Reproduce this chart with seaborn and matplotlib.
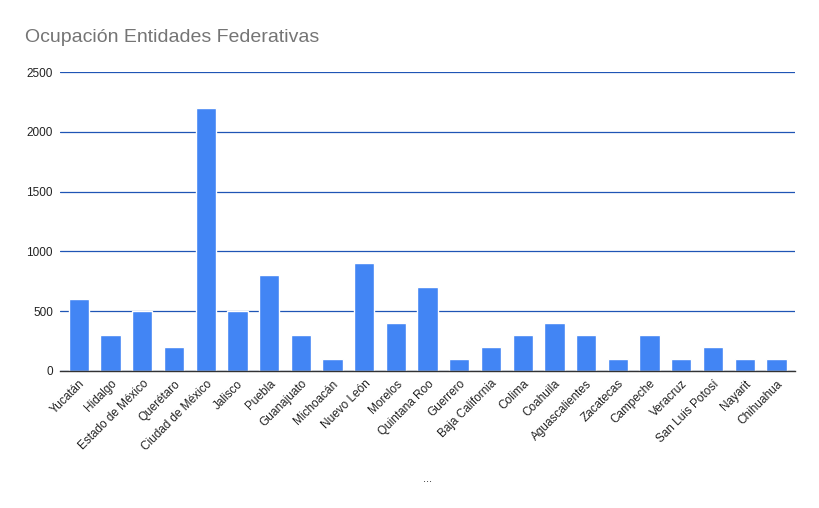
import matplotlib
matplotlib.use("Agg")
import matplotlib.pyplot as plt
import seaborn as sns
import pandas as pd

estados = [
    "Yucatán", "Hidalgo", "Estado de México", "Querétaro", "Ciudad de México",
    "Jalisco", "Puebla", "Guanajuato", "Michoacán", "Nuevo León", "Morelos",
    "Quintana Roo", "Guerrero", "Baja California", "Colima", "Coahuila",
    "Aguascalientes", "Zacatecas", "Campeche", "Veracruz", "San Luis Potosí",
    "Nayarit", "Chihuahua",
]
ocupacion = [600, 300, 500, 200, 2200, 500, 800, 300, 100, 900, 400,
             700, 100, 200, 300, 400, 300, 100, 300, 100, 200, 100, 100]
yticks = [0, 500, 1000, 1500, 2000, 2500]

df = pd.DataFrame({"estado": estados, "ocupacion": ocupacion})

sns.set_style("white")
plt.rcParams["font.family"] = ["Liberation Sans", "DejaVu Sans"]

fig = plt.figure(figsize=(8.2, 5.08), dpi=100)
ax = fig.add_axes([0.073, 0.270, 0.897, 0.588])

sns.barplot(data=df, x="estado", y="ocupacion", color="#4285F4",
            saturation=1, width=0.64, ax=ax, zorder=3)

ax.set_ylim(0, 2500)
ax.set_yticks(yticks)
ax.set_yticklabels([str(v) for v in yticks], fontsize=8.5, color="#222222")
ax.yaxis.grid(True, color="#1f55b5", linewidth=0.9, zorder=0)
ax.set_xlim(-0.6, len(estados) - 0.4)
ax.tick_params(axis="both", length=0, pad=5)
ax.set_xticks(range(len(estados)))
ax.set_xticklabels(estados, rotation=45, ha="right", rotation_mode="anchor",
                   fontsize=8.5, color="#222222")

for side in ["top", "right", "left"]:
    ax.spines[side].set_visible(False)
ax.spines["bottom"].set_color("#333333")
ax.spines["bottom"].set_linewidth(1.0)
ax.spines["bottom"].set_zorder(4)

ax.set_ylabel("")
ax.set_xlabel("...", fontsize=8, color="#222222", labelpad=0)
ax.xaxis.set_label_coords(0.5, -0.345)

fig.text(0.030, 0.927, "Ocupación Entidades Federativas", fontsize=14,
         color="#757575", ha="left", va="center")

fig.savefig("out.png", dpi=100, facecolor="white")
